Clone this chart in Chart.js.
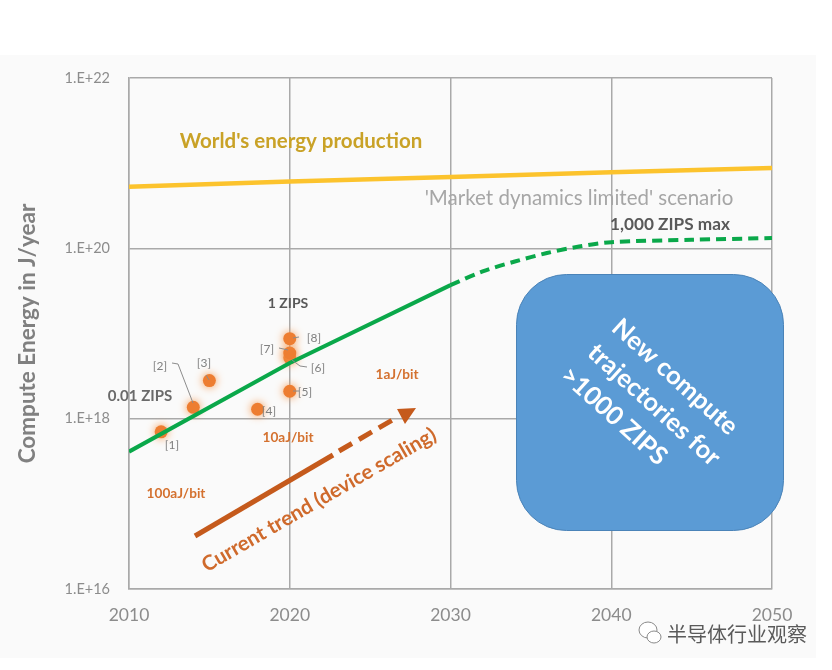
<!DOCTYPE html>
<html>
<head>
<meta charset="utf-8">
<script src="https://cdn.jsdelivr.net/npm/chart.js@4"></script>
<style>
  html, body { margin: 0; padding: 0; background: #fff; }
  canvas { display: block; filter: blur(0.5px); }
</style>
</head>
<body>
<canvas id="zipsChart" width="832" height="670"></canvas>
<script>
// Values
const xTickValues = [2010, 2020, 2030, 2040, 2050];
const yTickValues = [1e16, 1e18, 1e20, 1e22];
const yTickLabels = ['1.E+16', '1.E+18', '1.E+20', '1.E+22'];

const worldYears = [2010, 2020, 2030, 2040, 2050];
const worldEnergy = [5.3e20, 6.1e20, 6.9e20, 7.8e20, 8.8e20];

const trendYears = [2010, 2020, 2030];
const trendEnergy = [4.1e17, 4.5e18, 3.7e19];

const limitYears = [2030, 2032, 2034, 2036, 2038, 2040, 2045, 2050];
const limitEnergy = [3.7e19, 5.35e19, 7e19, 8.8e19, 1.05e20, 1.18e20, 1.26e20, 1.32e20];

const refYears = [2012, 2014, 2015, 2018, 2020, 2020, 2020, 2020];
const refEnergy = [7e17, 1.36e18, 2.8e18, 1.29e18, 2.1e18, 5.2e18, 5.9e18, 8.7e18];

const FONT = 'Lato, "Open Sans", sans-serif';
const zip = (xs, ys) => xs.map((x, i) => ({ x, y: ys[i] }));

function label(ctx, text, x, y, font, color, angle) {
  ctx.save();
  ctx.translate(x, y);
  if (angle) ctx.rotate(angle * Math.PI / 180);
  ctx.font = font;
  ctx.fillStyle = color;
  ctx.textAlign = 'center';
  ctx.textBaseline = 'middle';
  ctx.fillText(text, 0, 0);
  ctx.restore();
}

function leader(ctx, pts) {
  ctx.beginPath();
  pts.forEach((p, i) => (i ? ctx.lineTo(p[0], p[1]) : ctx.moveTo(p[0], p[1])));
  ctx.stroke();
}

// Panel behind the chart
const panelPlugin = {
  id: 'panel',
  beforeDraw(chart) {
    const ctx = chart.ctx;
    ctx.save();
    ctx.fillStyle = '#ffffff';
    ctx.fillRect(0, 0, 832, 670);
    ctx.fillStyle = '#fafafa';
    ctx.fillRect(0, 55, 816, 603);
    ctx.restore();
  }
};

// Soft glow round the reference points
const glowPlugin = {
  id: 'glow',
  beforeDatasetDraw(chart, args) {
    if (args.index !== 3) return;
    chart.ctx.save();
    chart.ctx.shadowColor = 'rgba(245, 150, 75, 1)';
    chart.ctx.shadowBlur = 9;
  },
  afterDatasetDraw(chart, args) {
    if (args.index === 3) chart.ctx.restore();
  }
};

// Callouts, arrow, blue box and watermark
const notesPlugin = {
  id: 'notes',
  afterDatasetsDraw(chart) {
    const ctx = chart.ctx;
    ctx.save();

    label(ctx, "World's energy production", 301, 141, 'bold 20.5px ' + FONT, '#c9a227');
    label(ctx, "'Market dynamics limited' scenario", 579, 198, '20.5px ' + FONT, '#a6a6a6');
    label(ctx, '1,000 ZIPS max', 670, 224, 'bold 17.2px ' + FONT, '#595959');
    label(ctx, '1 ZIPS', 288, 303, 'bold 14px ' + FONT, '#595959');
    label(ctx, '0.01 ZIPS', 140, 396, 'bold 15px ' + FONT, '#6a6a6a');

    const orange = '#d4712f';
    label(ctx, '1aJ/bit', 397, 375, 'bold 13.6px ' + FONT, orange);
    label(ctx, '10aJ/bit', 288, 438, 'bold 13.6px ' + FONT, orange);
    label(ctx, '100aJ/bit', 176, 494, 'bold 13.6px ' + FONT, orange);

    // reference tags and their leaders
    const tagFont = '12px ' + FONT;
    const tags = [['[1]', 172, 445], ['[2]', 160, 366], ['[3]', 204, 363], ['[4]', 269, 411],
      ['[5]', 305, 392], ['[6]', 318, 368], ['[7]', 267, 349], ['[8]', 314, 338]];
    tags.forEach(t => label(ctx, t[0], t[1], t[2], tagFont, '#808080'));
    ctx.strokeStyle = '#8c8c8c';
    ctx.lineWidth = 1;
    leader(ctx, [[172, 363], [178, 364], [193, 403]]);
    leader(ctx, [[206, 375], [209, 380]]);
    leader(ctx, [[293, 391], [299, 391]]);
    leader(ctx, [[292, 360], [300, 366], [307, 367]]);
    leader(ctx, [[279, 348], [288, 350]]);
    leader(ctx, [[293, 338], [299, 337]]);

    // current trend arrow
    const rust = '#c55a1c';
    ctx.strokeStyle = rust;
    ctx.lineWidth = 5;
    leader(ctx, [[195, 536], [333, 455]]);
    ctx.setLineDash([15, 8]);
    leader(ctx, [[339, 451], [396, 418]]);
    ctx.setLineDash([]);
    ctx.fillStyle = rust;
    ctx.beginPath();
    ctx.moveTo(397, 409);
    ctx.lineTo(416, 408);
    ctx.lineTo(405, 424);
    ctx.closePath();
    ctx.fill();
    label(ctx, 'Current trend (device scaling)', 319, 500, 'bold 20.6px ' + FONT, '#cf6a2c', -30);

    // blue box
    ctx.beginPath();
    ctx.roundRect(516.5, 274.5, 267, 256, 50);
    ctx.fillStyle = '#5b9bd5';
    ctx.fill();
    ctx.strokeStyle = '#4a83b8';
    ctx.lineWidth = 1;
    ctx.stroke();
    const boxFont = 'bold 25.5px ' + FONT;
    label(ctx, 'New compute', 675, 377, boxFont, '#ffffff', 42);
    label(ctx, 'trajectories for', 654, 405, boxFont, '#ffffff', 42);
    label(ctx, '>1000 ZIPS', 614, 416, boxFont, '#ffffff', 42);

    // watermark
    ctx.strokeStyle = '#8a8a8a';
    ctx.fillStyle = '#ffffff';
    ctx.lineWidth = 1;
    ctx.beginPath();
    ctx.ellipse(648, 630, 9, 8, 0, 0, Math.PI * 2);
    ctx.fill();
    ctx.stroke();
    ctx.beginPath();
    ctx.ellipse(654, 637, 7, 6, 0, 0, Math.PI * 2);
    ctx.fill();
    ctx.stroke();
    ctx.font = '20px "Noto Sans CJK SC"';
    ctx.fillStyle = '#5a5a5a';
    ctx.textAlign = 'left';
    ctx.textBaseline = 'middle';
    ctx.fillText('半导体行业观察', 667, 634);

    ctx.restore();
  }
};

new Chart(document.getElementById('zipsChart'), {
  type: 'scatter',
  data: {
    datasets: [
      {
        data: zip(worldYears, worldEnergy),
        showLine: true,
        borderColor: '#fcc32d',
        borderWidth: 4.5,
        pointRadius: 0
      },
      {
        data: zip(trendYears, trendEnergy),
        showLine: true,
        borderColor: '#0aa84a',
        borderWidth: 4,
        pointRadius: 0
      },
      {
        data: zip(limitYears, limitEnergy),
        showLine: true,
        borderColor: '#0aa84a',
        borderWidth: 4,
        borderDash: [10, 6],
        tension: 0.3,
        pointRadius: 0
      },
      {
        data: zip(refYears, refEnergy),
        backgroundColor: '#ed7d31',
        borderWidth: 0,
        pointRadius: 6.5
      }
    ]
  },
  options: {
    responsive: false,
    animation: false,
    layout: { padding: { top: 78, right: 60, bottom: 0, left: 0 } },
    plugins: {
      legend: { display: false },
      tooltip: { enabled: false }
    },
    scales: {
      x: {
        type: 'linear',
        min: 2010,
        max: 2050,
        afterBuildTicks: scale => { scale.ticks = xTickValues.map(value => ({ value })); },
        afterFit: scale => { scale.height = 81; },
        grid: { color: '#a9a9a9', lineWidth: 1.5, drawTicks: false },
        border: { color: '#a9a9a9', width: 1.5 },
        ticks: {
          color: '#8c8c8c',
          padding: 16,
          maxRotation: 0,
          font: { family: FONT, size: 17.5 },
          callback: value => String(value)
        }
      },
      y: {
        type: 'logarithmic',
        min: 1e16,
        max: 1e22,
        afterBuildTicks: scale => { scale.ticks = yTickValues.map(value => ({ value })); },
        afterFit: scale => { scale.width = 129; },
        grid: { color: '#a9a9a9', lineWidth: 1.5, drawTicks: false },
        border: { color: '#a9a9a9', width: 1.5 },
        title: {
          display: true,
          text: 'Compute Energy in J/year',
          color: '#808080',
          padding: { top: 14, bottom: 0 },
          font: { family: FONT, size: 22.5, weight: 'bold' }
        },
        ticks: {
          color: '#8c8c8c',
          padding: 19,
          font: { family: FONT, size: 14.5 },
          callback: value => yTickLabels[yTickValues.indexOf(value)]
        }
      }
    }
  },
  plugins: [panelPlugin, glowPlugin, notesPlugin]
});
</script>
</body>
</html>
